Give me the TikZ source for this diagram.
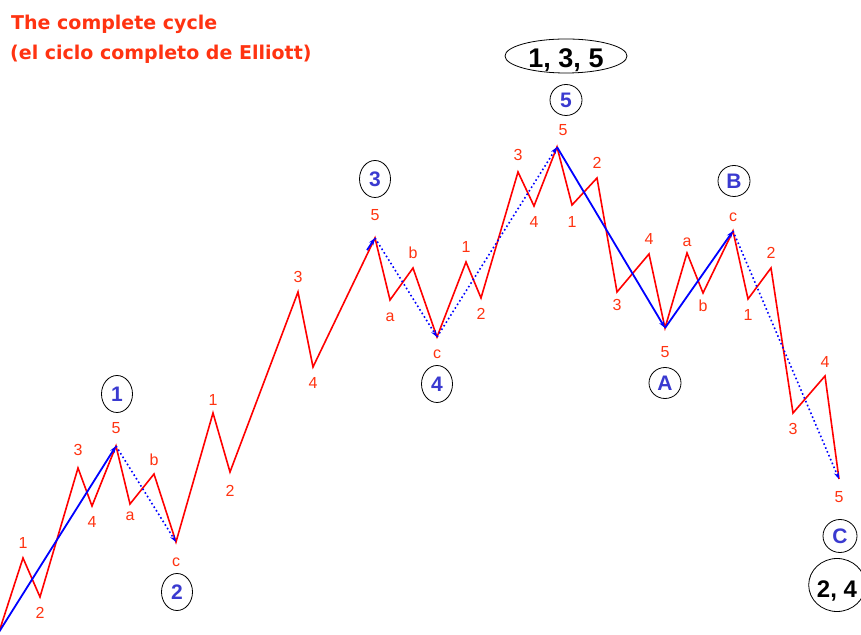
\documentclass[tikz,border=0pt]{standalone}
\usepackage{fontspec}
\setmainfont{Liberation Sans}
\newfontfamily\titlefont{DejaVu Sans}
\usepackage{xcolor}
\usetikzlibrary{arrows.meta,positioning,shapes.geometric,calc}

\definecolor{wavered}{HTML}{FF0000}
\definecolor{lblred}{HTML}{FF3311}
\definecolor{waveblue}{HTML}{0000FF}
\definecolor{circblue}{HTML}{3A3AD0}

\begin{document}
\begin{tikzpicture}[
  x=1pt, y=1pt,
  >={Stealth[length=7pt,width=5pt]},
  node distance=9.5pt,
  zig/.style={draw=wavered, line width=1.6pt},
  imp/.style={->, draw=waveblue, line width=1.8pt},
  corr/.style={imp, line width=1.6pt, dash pattern=on 1.6pt off 2.6pt},
  lbl/.style={
    text=lblred,
    font=\fontsize{16}{16}\selectfont,
    inner sep=0pt,
    text height=11.5pt,
    text depth=0pt
  },
  circ/.style={
    ellipse,
    draw=black,
    line width=0.8pt,
    inner sep=0pt,
    minimum width=31pt,
    minimum height=37pt,
    text=circblue,
    font=\bfseries\fontsize{21}{21}\selectfont
  },
  rnd/.style={circ, minimum width=32pt, minimum height=31pt},
  big/.style={
    ellipse,
    draw=black,
    line width=0.8pt,
    inner sep=0pt,
    text height=24pt,
    text depth=0pt
  },
  title/.style={
    text=lblred,
    inner sep=0pt,
    anchor=base west,
    font=\titlefont\bfseries\fontsize{19}{19}\selectfont
  }
]
  \fill[white] (0,0) rectangle (861,634);
  \useasboundingbox (0,0) rectangle (861,634);

  % Title
  \node[title] (ttl) at (11,604) {The complete cycle};
  \node[title] (ttl2) at (10,574) {(el ciclo completo de Elliott)};

  % Pivots of the cycle
  \coordinate (w0) at (-1,2);
  \coordinate (i1) at (23,76);
  \coordinate (i2) at (40,37);
  \coordinate (i3) at (78,166);
  \coordinate (i4) at (92,128);
  \coordinate (i5) at (116,188);
  \coordinate (ia) at (130,130);
  \coordinate (ib) at (154,160);
  \coordinate (ic) at (176,92);
  \coordinate (j1) at (213,221);
  \coordinate (j2) at (230,162);
  \coordinate (j3) at (298,342);
  \coordinate (j4) at (313,267);
  \coordinate (j5) at (375,396);
  \coordinate (ja) at (390,334);
  \coordinate (jb) at (413,366);
  \coordinate (jc) at (437,297);
  \coordinate (k1) at (466,372);
  \coordinate (k2) at (481,336);
  \coordinate (k3) at (518,462);
  \coordinate (k4) at (534,428);
  \coordinate (k5) at (557,487);
  \coordinate (l1) at (572,429);
  \coordinate (l2) at (597,456);
  \coordinate (l3) at (617,342);
  \coordinate (l4) at (649,380);
  \coordinate (l5) at (665,306);
  \coordinate (la) at (687,381);
  \coordinate (lb) at (703,341);
  \coordinate (lc) at (733,403);
  \coordinate (m1) at (748,335);
  \coordinate (m2) at (771,366);
  \coordinate (m3) at (793,221);
  \coordinate (m4) at (825,258);
  \coordinate (m5) at (839,155);

  % Red sub-waves
  \draw[zig] (w0) -- (i1) -- (i2) -- (i3) -- (i4) -- (i5) -- (ia) -- (ib) -- (ic)
    -- (j1) -- (j2) -- (j3) -- (j4) -- (j5) -- (ja) -- (jb) -- (jc)
    -- (k1) -- (k2) -- (k3) -- (k4) -- (k5) -- (l1) -- (l2) -- (l3)
    -- (l4) -- (l5) -- (la) -- (lb) -- (lc) -- (m1) -- (m2) -- (m3)
    -- (m4) -- (m5);

  % Blue main waves
  \coordinate (w3tail) at ($(ic)!0.96!(j5)$);
  \draw[imp] (w0) -- (i5);
  \draw[corr] (i5) -- (ic);
  \draw[imp] (w3tail) -- (j5);
  \draw[corr] (j5) -- (jc);
  \draw[corr] (jc) -- (k5);
  \draw[imp] (k5) -- (l5);
  \draw[imp] (l5) -- (lc);
  \draw[corr] (lc) -- (m5);

  % Sub-wave labels
  \node[lbl, above=of i1] (t-i1) {1};
  \node[lbl, below=of i2] (t-i2) {2};
  \node[lbl, above=12pt of i3] (t-i3) {3};
  \node[lbl, below=of i4] (t-i4) {4};
  \node[lbl, above=12pt of i5] (t-i5) {5};
  \node[lbl, below=5pt of ia] (t-ia) {a};
  \node[lbl, above=8pt of ib] (t-ib) {b};
  \node[lbl, below=13pt of ic] (t-ic) {c};
  \node[lbl, above=7pt of j1] (t-j1) {1};
  \node[lbl, below=13pt of j2] (t-j2) {2};
  \node[lbl, above=of j3] (t-j3) {3};
  \node[lbl, below=10pt of j4] (t-j4) {4};
  \node[lbl, above=17pt of j5] (t-j5) {5};
  \node[lbl, below=10pt of ja] (t-ja) {a};
  \node[lbl, above=of jb] (t-jb) {b};
  \node[lbl, below=10pt of jc] (t-jc) {c};
  \node[lbl, above=of k1] (t-k1) {1};
  \node[lbl, below=of k2] (t-k2) {2};
  \node[lbl, above=11pt of k3] (t-k3) {3};
  \node[lbl, below=10pt of k4] (t-k4) {4};
  \node[lbl, above=11pt of k5, xshift=6pt] (t-k5) {5};
  \node[lbl, below=11pt of l1] (t-l1) {1};
  \node[lbl, above=of l2] (t-l2) {2};
  \node[lbl, below=7pt of l3] (t-l3) {3};
  \node[lbl, above=of l4] (t-l4) {4};
  \node[lbl, below=18pt of l5] (t-l5) {5};
  \node[lbl, above=6pt of la] (t-la) {a};
  \node[lbl, below=7pt of lb] (t-lb) {b};
  \node[lbl, above=of lc] (t-lc) {c};
  \node[lbl, below=of m1] (t-m1) {1};
  \node[lbl, above=of m2] (t-m2) {2};
  \node[lbl, below=of m3] (t-m3) {3};
  \node[lbl, above=8pt of m4] (t-m4) {4};
  \node[lbl, below=12pt of m5] (t-m5) {5};

  % Circled main waves
  \node[circ] (c1) at (117,240) {1};
  \node[circ] (c2) at (177,42) {2};
  \node[circ] (c3) at (375,455) {3};
  \node[circ] (c4) at (437,250) {4};
  \node[rnd] (c5) at (566,534) {5};
  \node[rnd] (cA) at (665,251) {A};
  \node[rnd] (cB) at (734,453) {B};
  \node[rnd, minimum width=34pt, minimum height=33pt] (cC) at (840,98) {C};

  % Degree of the cycle
  \node[big, minimum width=122pt, minimum height=34pt,
    font=\bfseries\fontsize{27}{27}\selectfont] (d135) at (566,578) {1, 3, 5};
  \node[big, minimum width=54pt, minimum height=53pt,
    font=\bfseries\fontsize{24}{24}\selectfont] (d24) at (837,49) {2, 4};
\end{tikzpicture}
\end{document}
